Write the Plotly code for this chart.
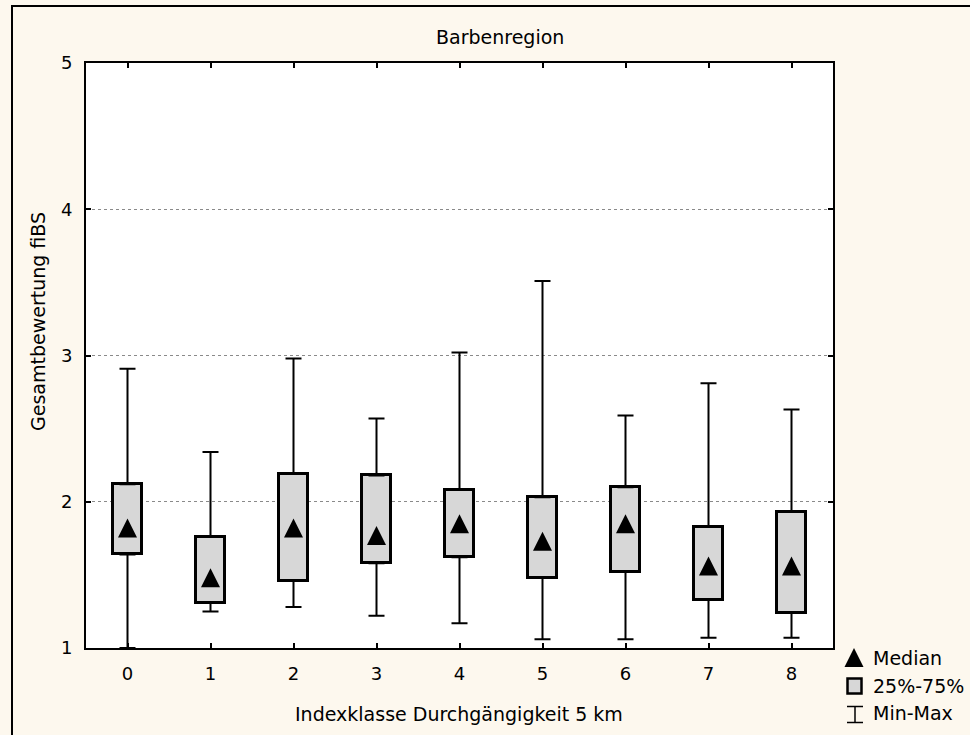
import plotly.graph_objects as go

# ---- data ----
categories = [0, 1, 2, 3, 4, 5, 6, 7, 8]
max_vals = [2.91, 2.34, 2.98, 2.57, 3.02, 3.51, 2.59, 2.81, 2.63]
q3_vals = [2.12, 1.76, 2.19, 2.18, 2.08, 2.03, 2.10, 1.83, 1.93]
median_vals = [1.82, 1.48, 1.82, 1.77, 1.85, 1.73, 1.85, 1.56, 1.56]
q1_vals = [1.64, 1.31, 1.46, 1.58, 1.62, 1.48, 1.52, 1.33, 1.24]
min_vals = [1.00, 1.25, 1.28, 1.22, 1.17, 1.06, 1.06, 1.07, 1.07]
y_ticks = [1, 2, 3, 4, 5]

title_text = "Barbenregion"
x_title = "Indexklasse Durchgängigkeit 5 km"
y_title = "Gesamtbewertung fiBS"
legend_labels = ["Median", "25%-75%", "Min-Max"]

FONT = "DejaVu Sans"
W, H = 970, 735
ML, MR, MT, MB = 86, 137, 63, 87
PW, PH = W - ML - MR, H - MT - MB


def px(xp):
    return (xp - ML) / PW


def py(yp):
    return (H - MB - yp) / PH


fig = go.Figure()

# upper whiskers (from q3 to max)
fig.add_trace(go.Scatter(
    x=categories, y=q3_vals, mode="markers",
    marker=dict(size=1, opacity=0),
    error_y=dict(type="data", symmetric=False,
                 array=[m - q for m, q in zip(max_vals, q3_vals)],
                 arrayminus=[0] * len(categories),
                 width=8, thickness=2, color="black"),
    showlegend=False, hoverinfo="skip"))
# lower whiskers (from q1 to min)
fig.add_trace(go.Scatter(
    x=categories, y=q1_vals, mode="markers",
    marker=dict(size=1, opacity=0),
    error_y=dict(type="data", symmetric=False,
                 array=[0] * len(categories),
                 arrayminus=[q - m for q, m in zip(q1_vals, min_vals)],
                 width=8, thickness=2, color="black"),
    showlegend=False, hoverinfo="skip"))

# boxes 25%-75%
fig.add_trace(go.Bar(
    x=categories, y=[b - a for a, b in zip(q1_vals, q3_vals)], base=q1_vals,
    width=0.36, marker=dict(color="#D7D7D7", line=dict(color="black", width=3)),
    showlegend=False))

shapes = []
tri_path = "M-9.5,-9.5 L9.5,-9.5 L0,9.5 Z"
# median triangles anchored at data values
for c, m in zip(categories, median_vals):
    shapes.append(dict(type="path", xref="x", yref="y",
                       xsizemode="pixel", ysizemode="pixel",
                       xanchor=c, yanchor=m, path=tri_path,
                       fillcolor="black", line=dict(width=0), layer="above"))

# outer frame (left + top visible)
shapes.append(dict(type="rect", xref="paper", yref="paper",
                   x0=px(12), x1=px(990), y0=py(760), y1=py(6),
                   line=dict(color="black", width=2), fillcolor="rgba(0,0,0,0)",
                   layer="below"))

# legend icons
shapes.append(dict(type="path", xref="paper", yref="paper",
                   xsizemode="pixel", ysizemode="pixel",
                   xanchor=px(854), yanchor=py(657.5), path=tri_path,
                   fillcolor="black", line=dict(width=0)))
shapes.append(dict(type="rect", xref="paper", yref="paper",
                   xsizemode="pixel", ysizemode="pixel",
                   xanchor=px(854.5), yanchor=py(686),
                   x0=-7, x1=7, y0=-7.5, y1=7.5,
                   fillcolor="#D7D7D7", line=dict(color="black", width=2.5)))
ic_x, ic_y = px(855), py(714.5)
for path in ["M0,-8 L0,8", "M-8,8 L8,8", "M-8,-8 L8,-8"]:
    shapes.append(dict(type="path", xref="paper", yref="paper",
                       xsizemode="pixel", ysizemode="pixel",
                       xanchor=ic_x, yanchor=ic_y, path=path,
                       line=dict(color="black", width=1.5)))

annotations = [
    dict(text=title_text, x=px(500), y=py(37), xref="paper", yref="paper",
         showarrow=False, xanchor="center", yanchor="middle",
         font=dict(family=FONT, size=19, color="black")),
    dict(text=x_title, x=px(459), y=py(714), xref="paper", yref="paper",
         showarrow=False, xanchor="center", yanchor="middle",
         font=dict(family=FONT, size=19, color="black")),
    dict(text=y_title, x=px(38), y=py(322), xref="paper", yref="paper",
         showarrow=False, xanchor="center", yanchor="middle", textangle=-90,
         font=dict(family=FONT, size=19, color="black")),
]
for lab, yy in zip(legend_labels, [658, 686, 713]):
    annotations.append(dict(text=lab, x=px(871), y=py(yy), xref="paper", yref="paper",
                            showarrow=False, xanchor="left", yanchor="middle",
                            font=dict(family=FONT, size=19, color="black")))

fig.update_layout(
    width=W, height=H,
    margin=dict(l=ML, r=MR, t=MT, b=MB, pad=0),
    paper_bgcolor="#FDF8EE", plot_bgcolor="white",
    showlegend=False, bargap=0,
    font=dict(family=FONT, size=18, color="black"),
    shapes=shapes, annotations=annotations,
    xaxis=dict(range=[-0.5, 8.5], tickvals=categories, ticktext=[str(c) for c in categories],
               showline=True, linecolor="black", linewidth=2, mirror="ticks",
               ticks="inside", ticklen=5, tickwidth=1.5, tickcolor="black",
               showgrid=False, zeroline=False, fixedrange=True, ticklabelstandoff=8,
               tickfont=dict(family=FONT, size=18)),
    yaxis=dict(range=[1, 5], tickvals=y_ticks,
               showline=True, linecolor="black", linewidth=2, mirror="ticks",
               ticks="inside", ticklen=5, tickwidth=1.5, tickcolor="black",
               showgrid=True, gridcolor="#8a8a8a", gridwidth=1, griddash="dot",
               zeroline=False, fixedrange=True, ticklabelstandoff=8,
               tickfont=dict(family=FONT, size=18)),
)

fig.write_html("out.html")
